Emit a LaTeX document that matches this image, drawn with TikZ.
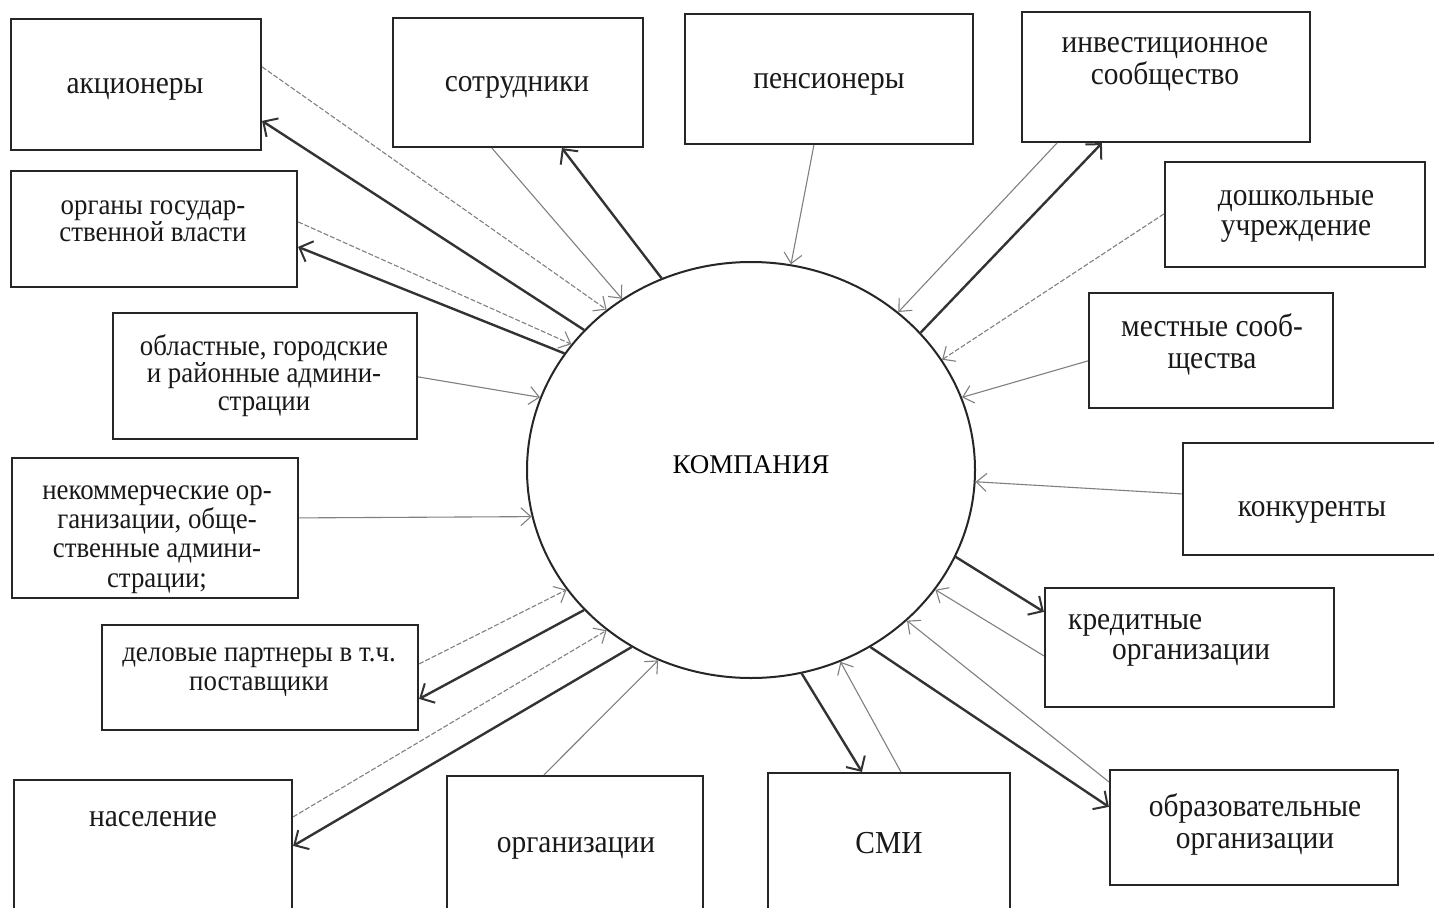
\documentclass[tikz,border=0pt]{standalone}
\usepackage{fontspec}
\setmainfont{Liberation Serif}
\newfontfamily\boxfont{Liberation Serif}[FakeStretch=0.92]
\usetikzlibrary{arrows.meta,shapes.geometric,calc}
\begin{document}
\begin{tikzpicture}[x=1pt,y=-1pt,
  box/.style={draw=black!85, line width=2.2pt, rectangle, inner sep=0pt},
  txt/.style={font=\boxfont\fontsize{32}{31}\selectfont, align=center, inner sep=0pt, text=black!90},
  stxt/.style={font=\boxfont\fontsize{29.2}{28}\selectfont, align=center, inner sep=0pt, text=black!90},
  thick arr/.style={draw=black!80, line width=2.4pt, -{Straight Barb[length=11pt,width=22pt,line width=2pt]}},
  thin arr/.style={draw=black!50, line width=1.1pt, -{Straight Barb[length=10pt,width=18pt,line width=1.1pt]}},
  dash arr/.style={thin arr, dash pattern=on 5pt off 2pt}]
\clip (0,0) rectangle (1434,907);
\fill[white] (0,0) rectangle (1434,907);

% central ellipse
\node[draw=black!85, line width=2pt, ellipse, minimum width=448pt, minimum height=416pt, inner sep=0pt,
      font=\fontsize{27}{30}\selectfont, text depth=10pt] (comp) at (751,470) {КОМПАНИЯ};

% boxes
\node[box, minimum width=250pt, minimum height=131pt] (akc) at (136,84.5) {};
\node[box, minimum width=250pt, minimum height=129pt] (sotr) at (518,82.5) {};
\node[box, minimum width=288pt, minimum height=130pt] (pens) at (829,79) {};
\node[box, minimum width=288pt, minimum height=130pt] (inv) at (1166,77) {};
\node[box, minimum width=286pt, minimum height=116pt] (org) at (154,229) {};
\node[box, minimum width=260pt, minimum height=105pt] (dosh) at (1295,214.5) {};
\node[box, minimum width=304pt, minimum height=126pt] (obl) at (265,376) {};
\node[box, minimum width=244pt, minimum height=115pt] (mest) at (1211,350.5) {};
\node[box, minimum width=286pt, minimum height=140pt] (nekom) at (155,528) {};
\node[box, minimum width=255pt, minimum height=112pt] (konk) at (1310.5,499) {};
\node[box, minimum width=289pt, minimum height=119pt] (kred) at (1189.5,647.5) {};
\node[box, minimum width=316pt, minimum height=105pt] (delov) at (260,677.5) {};
\node[box, minimum width=278pt, minimum height=140pt] (nasel) at (153,850) {};
\node[box, minimum width=256pt, minimum height=144pt] (orgz) at (575,848) {};
\node[box, minimum width=242pt, minimum height=147pt] (smi) at (889,846.5) {};
\node[box, minimum width=288pt, minimum height=115pt] (obraz) at (1254,827.5) {};

% texts
\node[txt] (akc-t) at (135,89) {акционеры};
\node[txt] (sotr-t) at (517,87) {сотрудники};
\node[txt] (pens-t) at (829,84) {пенсионеры};
\node[txt, font=\boxfont\fontsize{32}{32}\selectfont] (inv-t) at (1165,64) {инвестиционное\\сообщество};
\node[stxt, font=\boxfont\fontsize{29.2}{27}\selectfont] (org-t) at (153,221) {органы государ-\\ственной власти};
\node[txt, font=\boxfont\fontsize{32}{30}\selectfont] (dosh-t) at (1296,216) {дошкольные\\учреждение};
\node[stxt, font=\boxfont\fontsize{29.2}{27.5}\selectfont] (obl-t) at (264,375.5) {областные, городские\\и районные админи-\\страции};
\node[txt, font=\boxfont\fontsize{32}{32}\selectfont] (mest-t) at (1212,344) {местные сооб-\\щества};
\node[stxt, font=\boxfont\fontsize{29.2}{29.3}\selectfont] (nekom-t) at (157,539.5) {некоммерческие ор-\\ганизации, обще-\\ственные админи-\\страции;};
\node[txt] (konk-t) at (1312,512) {конкуренты};
\node[txt, align=left, anchor=west, font=\boxfont\fontsize{32}{30}\selectfont] (kred-t) at (1068,640) {кредитные\\\hspace*{44pt}организации};
\node[stxt, font=\boxfont\fontsize{29.2}{29}\selectfont] (delov-t) at (259,672) {деловые партнеры в т.ч.\\поставщики};
\node[txt] (nasel-t) at (153,819) {население};
\node[txt] (orgz-t) at (576,848) {организации};
\node[txt] (smi-t) at (889,843) {СМИ};
\node[txt, font=\boxfont\fontsize{32}{32}\selectfont] (obraz-t) at (1255,824) {образовательные\\организации};

% connectors
\draw[dash arr] ([yshift=-49pt]akc.north east) -- (comp.132.4);
\draw[thick arr] (comp.140.2) -- ([yshift=-103pt]akc.north east);
\draw[thin arr] ([xshift=100pt]sotr.south west) -- (comp.127.1);
\draw[thick arr] (comp.115.8) -- ([xshift=170pt]sotr.south west);
\draw[dash arr] ([yshift=-52pt]org.north east) -- (comp.145.4);
\draw[thick arr] (comp.148.5) -- ([yshift=-77pt]org.north east);
\draw[thin arr] ([xshift=130pt]pens.south west) -- (comp.79.3);
\draw[thin arr] ([xshift=36pt]inv.south west) -- (comp.47.3);
\draw[thick arr] (comp.39.3) -- ([xshift=81pt]inv.south west);
\draw[dash arr] ([yshift=-53pt]dosh.north west) -- (comp.30.6);
\draw[thin arr] ([yshift=-69pt]mest.north west) -- (comp.19.5);
\draw[thin arr] ([yshift=-65pt]obl.north east) -- (comp.161.6);
\draw[thin arr] ([yshift=-61pt]nekom.north east) -- (comp.192.1);
\draw[thin arr] ([yshift=-52pt]konk.north west) -- (comp.-3.2);
\draw[dash arr] ([yshift=-40pt]delov.north east) -- (comp.213.6);
\draw[thick arr] (comp.220.7) -- ([yshift=-75pt]delov.north east);
\draw[dash arr] ([yshift=-38pt]nasel.north east) -- (comp.228.5);
\draw[thick arr] (comp.236.1) -- ([yshift=-67pt]nasel.north east);
\draw[thin arr] ([xshift=98pt]orgz.north west) -- (comp.244.8);
\draw[thick arr] (comp.-23.8) -- ([yshift=-25pt]kred.north west);
\draw[thin arr] ([yshift=-69pt]kred.north west) -- (comp.-33.5);
\draw[thick arr] (comp.-76) -- ([xshift=95pt]smi.north west);
\draw[thin arr] ([xshift=134pt]smi.north west) -- (comp.-65.2);
\draw[thick arr] (comp.-56.5) -- ([yshift=-38pt]obraz.north west);
\draw[thin arr] ([yshift=-13pt]obraz.north west) -- (comp.-44.3);
\end{tikzpicture}
\end{document}
